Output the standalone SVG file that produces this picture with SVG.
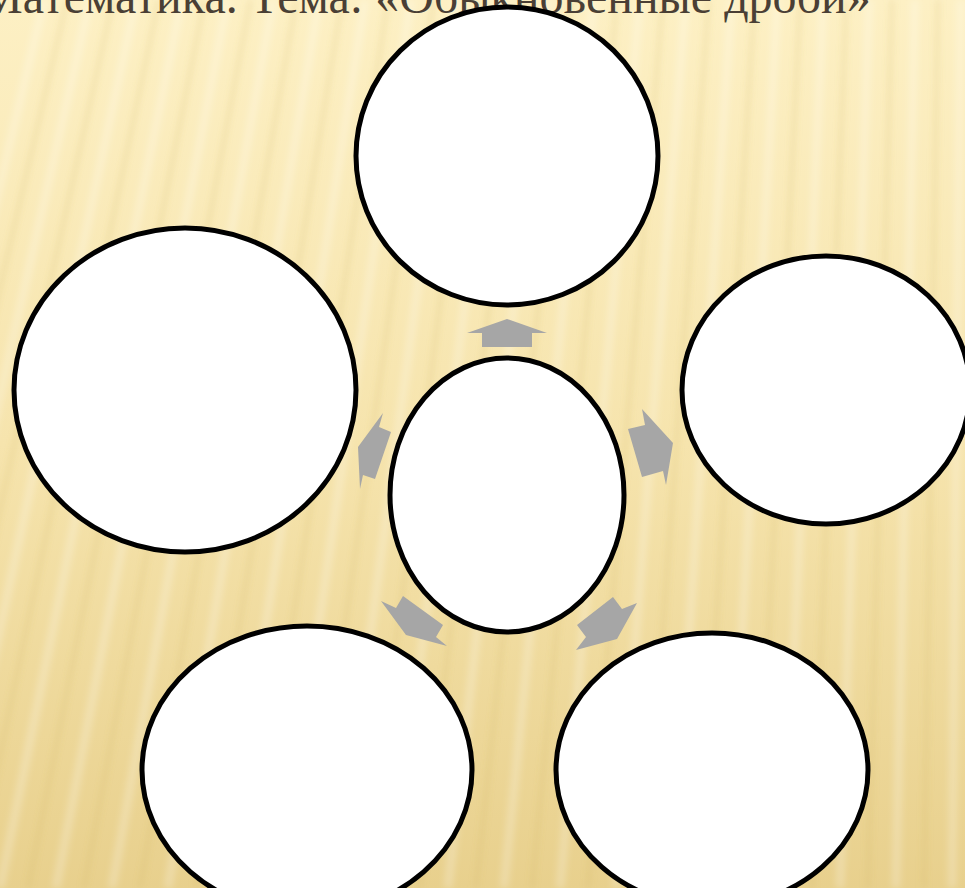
<svg xmlns="http://www.w3.org/2000/svg" width="965" height="888" viewBox="0 0 965 888">
  <defs>
    <linearGradient id="bg" x1="0" y1="0" x2="0" y2="1">
      <stop offset="0" stop-color="#fdf0c4"/>
      <stop offset="0.5" stop-color="#f6e4ad"/>
      <stop offset="1" stop-color="#e8d08d"/>
    </linearGradient>
    <filter id="soft" x="-10%" y="-10%" width="120%" height="120%">
      <feGaussianBlur stdDeviation="3"/>
    </filter>
  </defs>
  <style>
    .node { fill: #ffffff; stroke: #000000; stroke-width: 5; }
    .arrow { fill: #a6a6a6; stroke: none; }
    .title { font-family: "Liberation Serif", "Times New Roman", serif; font-size: 48px; fill: #4a3f35; }
    .lite { stroke: #ffffff; stroke-opacity: 0.22; stroke-width: 9; fill: none; }
    .dark { stroke: #c8a850; stroke-opacity: 0.2; stroke-width: 4; fill: none; }
  </style>

  <rect x="0" y="0" width="965" height="888" fill="url(#bg)"/>
  <g id="stripes" filter="url(#soft)">
    <path class="lite" d="M-168 888L44.2 0M-112 888L90.1 0M-56 888L135.9 0M0 888L181.7 0M56 888L227.5 0M112 888L273.3 0M168 888L319.2 0M224 888L365 0M280 888L410.8 0M336 888L456.6 0M392 888L502.5 0M448 888L548.3 0M504 888L594.1 0M560 888L639.9 0M616 888L685.8 0M672 888L731.6 0M728 888L777.4 0M784 888L823.2 0M840 888L869.1 0M896 888L914.9 0M952 888L960.7 0"/>
    <path class="dark" d="M-140 888L67.1 0M-84 888L113 0M-28 888L158.8 0M28 888L204.6 0M84 888L250.4 0M140 888L296.3 0M196 888L342.1 0M252 888L387.9 0M308 888L433.7 0M364 888L479.6 0M420 888L525.4 0M476 888L571.2 0M532 888L617 0M588 888L662.9 0M644 888L708.7 0M700 888L754.5 0M756 888L800.3 0M812 888L846.2 0M868 888L892 0M924 888L937.8 0M980 888L983.6 0"/>
  </g>

  <text class="title" x="-20" y="13">Математика. Тема: «Обыкновенные дроби»</text>

  <g id="connectors">
    <polygon class="arrow" points="507,319 547,333 532,333 532,347 482,347 482,333 467,333"/>
    <polygon class="arrow" points="383,413 379,427 391,432 375,479 363,475 360,489 358,447"/>
    <polygon class="arrow" points="642,409 645,425 628,429 642,477 663,471 666,485 673,443"/>
    <polygon class="arrow" points="381,601 396,608 403,596 443,625 436,637 447,646 406,635"/>
    <polygon class="arrow" points="637,603 622,609 613,597 577,625 586,637 576,650 617,639"/>
  </g>

  <g id="node-top"><ellipse class="node" cx="507" cy="156" rx="151" ry="149"/></g>
  <g id="node-left"><ellipse class="node" cx="185" cy="390" rx="171" ry="162"/></g>
  <g id="node-right"><ellipse class="node" cx="826" cy="390" rx="144" ry="134"/></g>
  <g id="node-center"><ellipse class="node" cx="507" cy="495" rx="117" ry="137"/></g>
  <g id="node-bottom-left"><ellipse class="node" cx="307" cy="770" rx="165" ry="144"/></g>
  <g id="node-bottom-right"><ellipse class="node" cx="712" cy="770" rx="156" ry="137"/></g>
</svg>
